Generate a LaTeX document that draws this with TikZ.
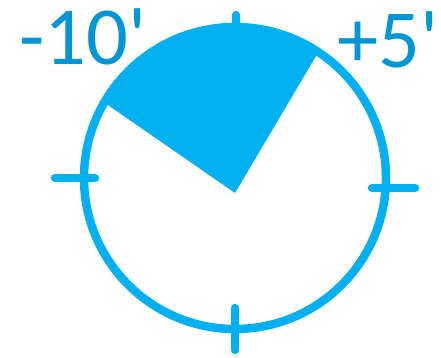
\documentclass[tikz,border=0pt]{standalone}
\usepackage{fontspec}
\usetikzlibrary{calc}
\setmainfont{Carlito}
\definecolor{azzurro}{RGB}{0,176,240}
\definecolor{blutesto}{RGB}{0,150,214}
\begin{document}
\begin{tikzpicture}[x=0.02cm, y=0.02cm,
			quadrante/.style={line width=4.8pt, draw=azzurro},
			settore/.style={fill=azzurro, draw=none},
			tacca/.style={line width=4.8pt, line cap=round, azzurro},
			etichetta/.style={font=\fontsize{47}{50}\selectfont, text=blutesto,
				inner sep=0pt, anchor=base west}]
			
			\useasboundingbox (0,0) rectangle (441,358);
			
			\def\xC{235}                       %% centro del quadrante
			\def\yC{180}
			\def\R{151}                        %% raggio
			
			%% --- settore pieno fra -10' e +5' ---
			\fill[settore] (235,165) -- ($(\xC,\yC)+(56.5:\R)$)
				arc[start angle=56.5, end angle=150, radius=\R] -- cycle;
			
			%% --- cerchio ---
			\draw[quadrante] (\xC,\yC) circle[radius=\R];
			
			%% --- 4 tacche ---
			\draw[tacca] (55,180) -- (95,180);
			\draw[tacca] (372,170) -- (415,170);
			\draw[tacca] (236,343) -- (236,325);
			\draw[tacca] (235,50) -- (235,8);
			
			%% --- etichette ---
			\node[etichetta] (meno) at (19,293) {-10\textquotesingle};
			\node[etichetta] (piu) at (337,290) {+5\textquotesingle};
			
		\end{tikzpicture}
\end{document}
